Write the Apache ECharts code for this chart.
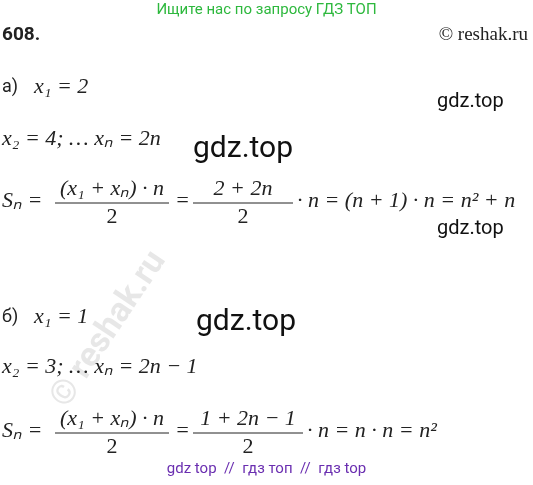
<!DOCTYPE html>
<html><head><meta charset="utf-8">
<script src="https://cdn.jsdelivr.net/npm/echarts@6/dist/echarts.min.js"></script>
<style>html,body{margin:0;background:#fff}#main{width:533px;height:485px}</style>
</head><body><div id="main"></div>
<script>
// text lines of the solution: [text, x, y]
const mathLines = [
  ['x₁ = 2', 34, 76],
  ['x₂ = 4; … xₙ = 2n', 2, 128],
  ['x₁ = 1', 34, 306],
  ['x₂ = 3; … xₙ = 2n − 1', 2, 356]
];
const labels = [['а)', 2, 78], ['б)', 2, 308]];
const marks = [['gdz.top', 437, 92, 20], ['gdz.top', 193, 134, 30], ['gdz.top', 437, 219, 20], ['gdz.top', 196, 307, 30]];
// fractions: [numerator, denominator, centerX, barY, barHalfWidth]
const fractions = [
  ['(x₁ + xₙ) · n', '2', 112, 203, 57],
  ['2 + 2n', '2', 243, 203, 50],
  ['(x₁ + xₙ) · n', '2', 112, 433, 57],
  ['1 + 2n − 1', '2', 248, 433, 55]
];
const sumLines = [
  ['Sₙ =', 2, 190], ['=', 175, 190], ['· n = (n + 1) · n = n² + n', 297, 190],
  ['Sₙ =', 2, 420], ['=', 175, 420], ['· n = n · n = n²', 307, 420]
];
const mathFont = 'italic 22px "Liberation Serif"';
const g = [];
g.push({type:'text', left:'center', top:3, style:{text:'Ищите нас по запросу ГДЗ ТОП', font:'15px Roboto', fill:'#2db83d'}});
g.push({type:'text', left:2, top:26, style:{text:'608.', font:'bold 19px Roboto', fill:'#222'}});
g.push({type:'text', right:5, top:26, style:{text:'© reshak.ru', font:'19px "Liberation Serif"', fill:'#222'}});
g.push({type:'text', left:'center', top:462, style:{text:'gdz top  //  гдз топ  //  гдз top', font:'15px Roboto', fill:'#6a2eb0'}});
g.push({type:'text', x:45, y:395, rotation:Math.PI/3.2, style:{text:'© reshak.ru', font:'bold 34px Roboto', fill:'rgba(120,120,120,0.18)'}});
labels.forEach(l => g.push({type:'text', x:l[1], y:l[2], style:{text:l[0], font:'18px Roboto', fill:'#222'}}));
mathLines.concat(sumLines).forEach(l => g.push({type:'text', x:l[1], y:l[2], style:{text:l[0], font:mathFont, fill:'#222'}}));
marks.forEach(m => g.push({type:'text', x:m[1], y:m[2], style:{text:m[0], font:m[3]+'px Roboto', fill:'#111'}}));
fractions.forEach(f => {
  g.push({type:'text', x:f[2], y:f[3]-3, style:{text:f[0], font:mathFont, fill:'#222', align:'center', verticalAlign:'bottom'}});
  g.push({type:'line', shape:{x1:f[2]-f[4], y1:f[3], x2:f[2]+f[4], y2:f[3]}, style:{stroke:'#222', lineWidth:1}});
  g.push({type:'text', x:f[2], y:f[3]+3, style:{text:f[1], font:mathFont.replace('italic ',''), fill:'#222', align:'center', verticalAlign:'top'}});
});
const chart = echarts.init(document.getElementById('main'));
chart.setOption({graphic: g});
</script></body></html>
